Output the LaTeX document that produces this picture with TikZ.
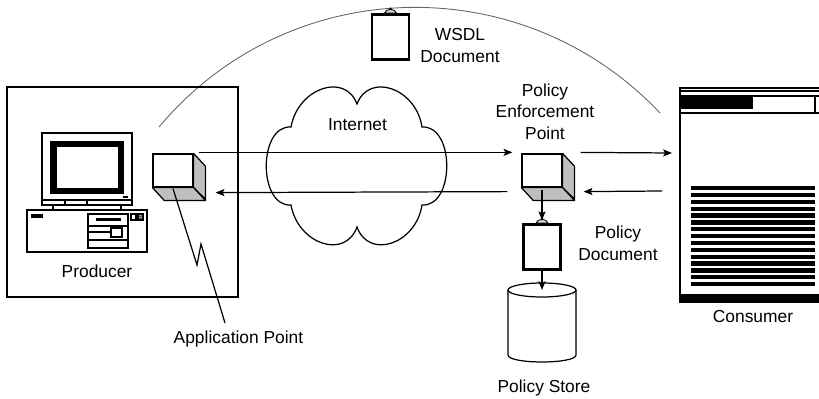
\documentclass[tikz,border=0pt]{standalone}
\usepackage{fontspec}
\setmainfont{Liberation Sans}
\usetikzlibrary{arrows.meta,positioning,calc}

\tikzset{
  lbl/.style={font=\fontsize{9.9}{12}\selectfont, inner sep=0pt, align=center, anchor=base},
  front/.style={draw, fill=white, minimum width=0.8cm, minimum height=0.66cm, inner sep=0pt},
  side/.style={draw, fill=black!25, line join=round},
  arr/.style={-{Stealth[length=5pt,width=4pt,inset=1pt]}},
  clipdoc/.style={draw, line width=1.5pt, fill=white, minimum width=0.74cm, minimum height=0.9cm, inner sep=0pt},
}

% gray sides of a box, front face given by node #1
\newcommand\boxsides[1]{%
  \draw[side] (#1.north east) -- ++(12,13) -- ++(0,33) -- (#1.south east) -- cycle;
  \draw[side] (#1.south west) -- (#1.south east) -- ++(12,13) -- ($(#1.south west)+(12,13)$) -- cycle;
}
% clip on top of a document
\newcommand\docclip[1]{%
  \draw[fill=black!15, line width=0.5pt] ($(#1.north)+(-6,0)$) .. controls ($(#1.north)+(-5,-5)$) and ($(#1.north)+(5,-5)$) .. ($(#1.north)+(6,0)$) -- cycle;
  \fill ($(#1.north)+(0,-4.5)$) circle (0.8pt);
}

\begin{document}
\begin{tikzpicture}[x=0.02cm,y=-0.02cm,line width=0.7pt]
  \useasboundingbox (0,0) rectangle (819,399);

  % arc over the top
  \coordinate (arcL) at (159,127);
  \coordinate (arcR) at (660,113);
  \draw[black!60, line width=0.5pt] (arcL) .. controls (288,-27) and (522,-33) .. (arcR);

  % producer
  \draw (7,87) rectangle (238,297);
  \draw[fill=white] (42,133) rectangle (132,205);
  \draw (42,200) -- (132,200) (65,200) -- (65,205) (87,200) -- (87,205);
  \fill (50,141) rectangle (124,194);
  \fill[white] (57,147) rectangle (118,188);
  \fill (123,196) rectangle (128,198);
  \draw (53,205) -- (53,210) (121,205) -- (121,210);
  \draw (27,210) rectangle (147,252);
  \fill (31,214) rectangle (43,218);
  \draw (88,214) rectangle (128,248);
  \fill (96,218) rectangle (121,221);
  \draw (88,226) -- (128,226) (88,232) -- (111,232) (88,240) -- (128,240);
  \draw (111,228) rectangle (122,237);
  \draw (131,214) rectangle (136,220);
  \draw (138,214) rectangle (143,220);
  \fill (138.5,215.5) rectangle (142.5,216.5) (138.5,217.5) rectangle (142.5,218.5);
  \node[lbl] (prodl) at (97,277) {Producer};

  % application point
  \node[front] (ap) at (173,170.5) {};
  \boxsides{ap}
  \node[lbl] (appl) at (238.5,343) {Application Point};
  \coordinate (z1) at (197,265);
  \coordinate (z2) at (201,244);
  \coordinate (ape) at (225,323);
  \draw ($(ap.south)+(0,1)$) -- (z1) -- (z2) -- (ape);

  % internet cloud
  \draw (291,127) .. controls (298,88) and (345,72) .. (357,104)
        .. controls (369,72) and (416,88) .. (422,127)
        .. controls (455,125) and (455,207) .. (422,205)
        .. controls (416,244) and (369,260) .. (357,227)
        .. controls (345,260) and (298,244) .. (291,205)
        .. controls (258,207) and (258,125) .. (291,127) -- cycle;
  \node[lbl] (inet) at (357.5,130) {Internet};

  % wsdl document
  \node[clipdoc] (wsdl) at (390.5,37) {};
  \docclip{wsdl}
  \node[lbl] (wsdll) at (460,62) {WSDL\\Document};

  % policy enforcement point
  \node[front] (pep) at (542,170.5) {};
  \boxsides{pep}
  \node[lbl] (pepl) at (545,139) {Policy\\Enforcement\\Point};

  % policy document and store
  \node[clipdoc] (pdoc) at (542,247) {};
  \docclip{pdoc}
  \node[lbl] (pdocl) at (618,260) {Policy\\Document};
  \coordinate (store) at (542,290);
  \draw[fill=white] (508,290) -- (508,355) .. controls (508,364.3) and (576,364.3) .. (576,355) -- (576,290);
  \draw (store) ellipse [x radius=34, y radius=7];
  \node[lbl] (storel) at (544,392) {Policy Store};
  \draw[arr] ($(pep.south)+(0,2)$) -- ($(pdoc.north)+(0,-3)$);
  \draw[arr] (pdoc.south) -- (store);

  % consumer
  \coordinate (con) at (680,88);
  \draw (819,88) -- (con) -- (680,303);
  \draw (680,91) -- (819,91) (680,96) -- (819,96) (680,113) -- (819,113) (815,96) -- (815,113);
  \fill (680,96) rectangle (753,109);
  \foreach \i in {0,...,14}
    \fill (691,186+6.85*\i) rectangle (815,190.3+6.85*\i);
  \fill (680,294) rectangle (819,303);
  \node[lbl] (consl) at (753,322) {Consumer};

  % messages
  \draw[arr] ($(ap.north east)+(5,-1)$) -- ($(pep.north west)+(-9,-1)$);
  \draw[arr] ($(pep.south west)+(-14,4)$) -- ($(ap.south east)+(22,5)$);
  \draw[arr] ($(pep.north east)+(18,-1)$) -- ($(con)+(-8,65)$);
  \draw[arr] ($(con)+(-18,103)$) -- ($(pep.south east)+(21,4)$);
\end{tikzpicture}
\end{document}
